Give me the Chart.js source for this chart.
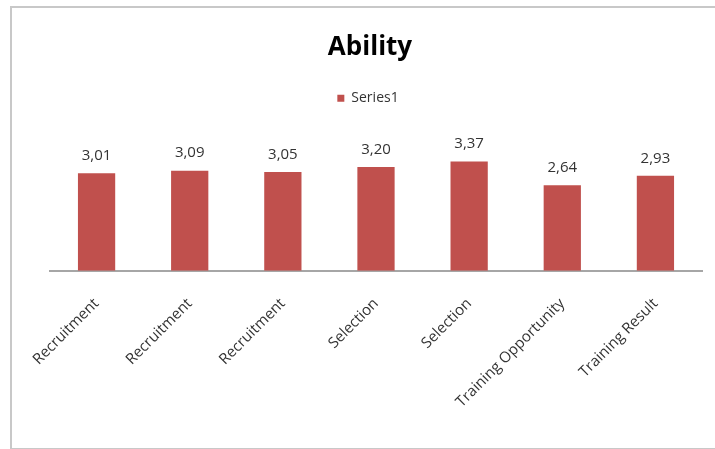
<!DOCTYPE html>
<html>
<head>
<meta charset="utf-8">
<script src="https://cdn.jsdelivr.net/npm/chart.js@4.4.1/dist/chart.umd.min.js"></script>
<style>
  html, body { margin: 0; padding: 0; background: #fff; overflow: hidden; }
  #frame {
    position: absolute; left: 10px; top: 6px;
    width: 740px; height: 440px;
    border: 2px solid #c8c8c8;
    border-bottom-width: 1px;
  }
  #wrap { position: absolute; left: 0; top: 0; width: 715px; height: 449px; }
</style>
</head>
<body>
<div id="frame"></div>
<div id="wrap"><canvas id="chart"></canvas></div>
<script>
"use strict";

// ── data ─────────────────────────────────────────────────────────────────────
const categories = [
  "Recruitment", "Recruitment", "Recruitment", "Selection",
  "Selection", "Training Opportunity", "Training Result",
];
const series1 = [3.01, 3.09, 3.05, 3.20, 3.37, 2.64, 2.93];

const BAR_COLOR = "#C0504D";
const TEXT_COLOR = "#333333";
const FONT = "'Open Sans', 'Noto Sans', sans-serif";

// ── value labels above bars (comma decimals) ─────────────────────────────────
const valueLabels = {
  id: "valueLabels",
  afterDatasetsDraw(chart) {
    const { ctx } = chart;
    const meta = chart.getDatasetMeta(0);
    ctx.save();
    ctx.font = `15px ${FONT}`;
    ctx.fillStyle = TEXT_COLOR;
    ctx.textAlign = "center";
    ctx.textBaseline = "bottom";
    meta.data.forEach((bar, i) => {
      const txt = series1[i].toFixed(2).replace(".", ",");
      ctx.fillText(txt, bar.x, bar.y - 10);
    });
    ctx.restore();
  },
};

// extra room under the legend, and nudge title/legend a bit left
const legendGap = {
  id: "legendGap",
  beforeInit(chart) {
    const fit = chart.legend.fit;
    chart.legend.fit = function () {
      fit.bind(chart.legend)();
      this.height += 26;
    };
  },
  afterLayout(chart) {
    chart.titleBlock.left -= 6;  chart.titleBlock.right -= 6;
    chart.legend.left -= 8;      chart.legend.right -= 8;
  },
};

new Chart(document.getElementById("chart"), {
  type: "bar",
  data: {
    labels: categories,
    datasets: [{
      label: "Series1",
      data: series1,
      backgroundColor: BAR_COLOR,
      borderWidth: 0,
      categoryPercentage: 1,
      barPercentage: 0.4,
    }],
  },
  options: {
    responsive: true,
    maintainAspectRatio: false,
    animation: false,
    layout: { padding: { left: 50, right: 13, top: 32, bottom: 14 } },
    plugins: {
      title: {
        display: true,
        text: "Ability",
        color: "#000",
        font: { family: FONT, size: 26, weight: "bold" },
        padding: { top: 0, bottom: 24 },
      },
      legend: {
        position: "top",
        labels: {
          boxWidth: 7, boxHeight: 7,
          color: TEXT_COLOR,
          font: { family: FONT, size: 14 },
          padding: 4,
        },
      },
      tooltip: { enabled: false },
    },
    scales: {
      x: {
        grid: { display: false, drawTicks: false },
        border: { display: true, color: "#a6a6a6", width: 2 },
        ticks: {
          color: TEXT_COLOR,
          font: { family: FONT, size: 15 },
          maxRotation: 45, minRotation: 45,
          padding: 24,
          autoSkip: false,
        },
      },
      y: {
        display: false,
        min: 0, max: 4,
      },
    },
  },
  plugins: [valueLabels, legendGap],
});
</script>
</body>
</html>
